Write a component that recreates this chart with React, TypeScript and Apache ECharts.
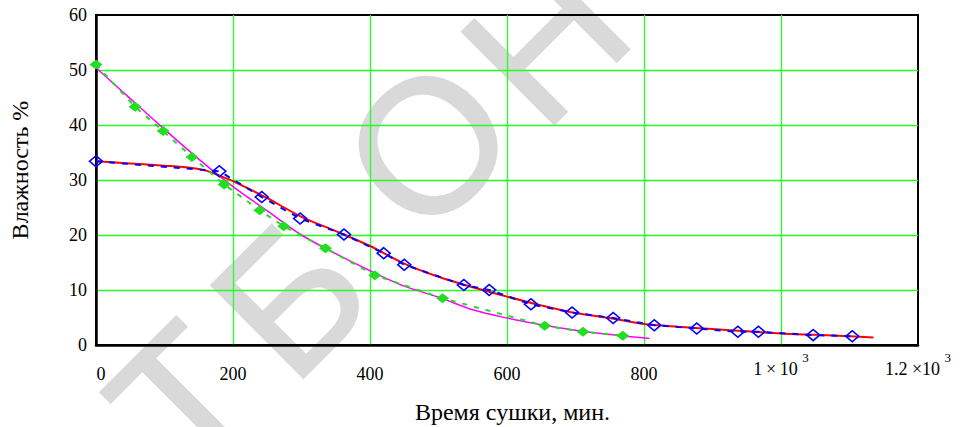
import React, { useEffect, useRef } from "react";
import * as echarts from "echarts";

// Experiment 1 (green filled diamonds) and its fitted curve (magenta)
const greenX = [0, 57, 98, 140, 187, 239, 274, 335, 407, 506, 655, 711, 769];
const greenY = [51.0, 43.3, 38.9, 34.2, 29.2, 24.5, 21.6, 17.6, 12.7, 8.5, 3.5, 2.4, 1.7];
const magentaX = [0, 50, 100, 150, 200, 250, 300, 350, 400, 450, 500, 550, 600, 650, 700, 750, 808];
const magentaY = [50.4, 44.8, 39.2, 33.8, 28.8, 24.4, 20.0, 16.6, 13.5, 10.7, 8.7, 6.4, 4.9, 3.7, 2.7, 1.9, 1.2];

// Experiment 2 (blue hollow diamonds) and its fitted curve (red)
const blueX = [0, 180, 242, 298, 362, 420, 450, 537, 574, 635, 695, 755, 815, 877, 937, 967, 1047, 1104];
const blueY = [33.4, 31.6, 26.9, 23.0, 20.1, 16.7, 14.6, 10.9, 10.0, 7.4, 5.9, 4.9, 3.6, 3.0, 2.4, 2.4, 1.8, 1.6];
const redX = [0, 50, 100, 140, 160, 180, 200, 250, 300, 350, 400, 450, 500, 550, 600, 650, 700, 750, 800, 850, 900, 950, 1000, 1050, 1100, 1135];
const redY = [33.4, 33.0, 32.6, 32.2, 31.7, 30.8, 29.8, 26.7, 23.3, 20.7, 18.0, 14.8, 12.4, 10.5, 8.8, 7.2, 5.8, 4.9, 3.8, 3.3, 2.9, 2.5, 2.1, 1.85, 1.6, 1.35];

const xTicks = [0, 200, 400, 600, 800, 1000, 1200];
const xTickLabels: Record<number, string> = {
  0: "{z|0}",
  200: "{p|200}",
  400: "{p|400}",
  600: "{p|600}",
  800: "{p|800}",
  1000: "{n|1\u2009×\u200910} {s|3}",
  1200: "{n|1.2 ×10} {s|3}",
};
const yTicks = [0, 10, 20, 30, 40, 50, 60];

const xAxisTitle = "Время сушки, мин.";
const yAxisTitle = "Влажность %";

const watermarkLetters = ["Т", "Б", "О", "Н"];
const watermarkCenters = [
  [184, 400],
  [290, 298],
  [428, 145],
  [545, 40],
];

const zip = (xs: number[], ys: number[]) => xs.map((x, i) => [x, ys[i]]);

export default function App() {
  const ref = useRef<HTMLDivElement>(null);

  useEffect(() => {
    if (!ref.current) return;
    const chart = echarts.init(ref.current, undefined, { renderer: "svg" });
    const serif = "Liberation Serif, Times New Roman, serif";

    const option: any = {
      animation: false,
      textStyle: { fontFamily: serif, color: "#000" },
      graphic: {
        elements: watermarkLetters.map((ch, i) => ({
          type: "text",
          x: watermarkCenters[i][0],
          y: watermarkCenters[i][1],
          rotation: Math.PI / 4,
          z: -10,
          silent: true,
          style: {
            text: ch,
            fontSize: 190,
            fontFamily: "Liberation Sans",
            fill: "#d9d9d9",
            stroke: "#d9d9d9",
            lineWidth: 2,
            textAlign: "center",
            textVerticalAlign: "middle",
          },
        })),
      },
      grid: {
        left: 96,
        right: 42,
        top: 15,
        bottom: 82,
        show: true,
        borderColor: "#000",
        borderWidth: 2,
        backgroundColor: "transparent",
        containLabel: false,
        outerBoundsMode: "none",
      },
      xAxis: {
        type: "value",
        min: xTicks[0],
        max: xTicks[xTicks.length - 1],
        interval: 200,
        axisLine: { show: true, onZero: false, lineStyle: { color: "#000", width: 2.5 } },
        axisTick: { show: false },
        splitLine: {
          show: true,
          showMinLine: false,
          showMaxLine: false,
          lineStyle: { color: "#22ff22", width: 1.3 },
        },
        axisLabel: {
          margin: 15,
          color: "#000",
          fontFamily: serif,
          fontSize: 18,
          showMaxLabel: true,
          showMinLabel: true,
          hideOverlap: false,
          formatter: (v: number) => xTickLabels[v] ?? String(v),
          rich: {
            p: { fontSize: 18, lineHeight: 18, padding: [9, 0, 0, 0], fontFamily: serif, color: "#000" },
            z: { fontSize: 18, lineHeight: 18, padding: [9, 0, 0, 10], fontFamily: serif, color: "#000" },
            n: { fontSize: 18, lineHeight: 18, padding: [9, 0, 0, 0], fontFamily: serif, color: "#000", verticalAlign: "bottom" },
            s: { fontSize: 13, lineHeight: 13, padding: [0, 0, 14, 0], fontFamily: serif, color: "#000", verticalAlign: "bottom" },
          },
        },
        name: xAxisTitle,
        nameLocation: "middle",
        nameGap: 55,
        nameTextStyle: { fontSize: 24, lineHeight: 24, color: "#000", fontFamily: serif, padding: [0, 0, 0, 11] },
      },
      yAxis: {
        type: "value",
        min: yTicks[0],
        max: yTicks[yTicks.length - 1],
        interval: 10,
        axisLine: { show: true, onZero: false, lineStyle: { color: "#000", width: 2.5 } },
        axisTick: { show: false },
        splitLine: {
          show: true,
          showMinLine: false,
          showMaxLine: false,
          lineStyle: { color: "#22ff22", width: 1.3 },
        },
        axisLabel: {
          margin: 9,
          fontSize: 18,
          color: "#000",
          fontFamily: serif,
          padding: [9, 0, 0, 0],
        },
        name: yAxisTitle,
        nameLocation: "middle",
        nameRotate: 90,
        nameGap: 64,
        nameTextStyle: { fontSize: 24, color: "#000", fontFamily: serif, padding: [0, 0, 0, 20] },
      },
      series: [
        {
          type: "line",
          name: "fit1",
          data: zip(magentaX, magentaY),
          smooth: 0.3,
          symbol: "none",
          lineStyle: { color: "#ff00ff", width: 1.5 },
          z: 2,
        },
        {
          type: "line",
          name: "fit2",
          data: zip(redX, redY),
          smooth: 0.3,
          symbol: "none",
          lineStyle: { color: "#ff0000", width: 2 },
          z: 3,
        },
        {
          type: "line",
          name: "exp1",
          data: zip(greenX, greenY),
          symbol: "diamond",
          symbolSize: [13, 10],
          itemStyle: { color: "#22dd22" },
          lineStyle: { color: "#22dd22", width: 2, type: [5, 7] },
          z: 4,
        },
        {
          type: "line",
          name: "exp2",
          data: zip(blueX, blueY),
          symbol: "diamond",
          symbolSize: [13, 11],
          itemStyle: { color: "rgba(0,0,0,0)", borderColor: "#0000ff", borderWidth: 1.6 },
          lineStyle: { color: "#0000ff", width: 2, type: [6, 7] },
          z: 5,
        },
      ],
    };

    chart.setOption(option);
    return () => chart.dispose();
  }, []);

  return (
    <div
      ref={ref}
      style={{ position: "fixed", left: 0, top: 0, width: 960, height: 427, background: "#fff" }}
    />
  );
}
